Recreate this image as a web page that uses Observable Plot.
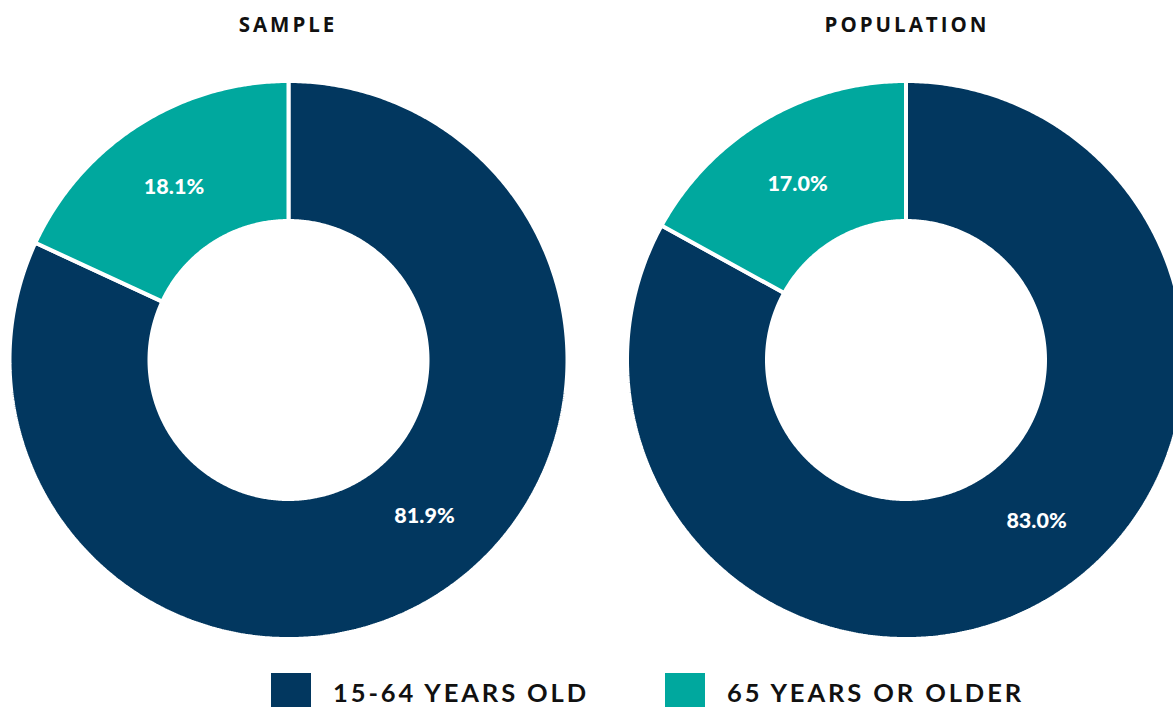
<!DOCTYPE html>
<html>
<head>
<meta charset="utf-8">
<script src="https://cdn.jsdelivr.net/npm/d3@7"></script>
<script src="https://cdn.jsdelivr.net/npm/@observablehq/plot@0.6"></script>
<style>
  html, body { margin: 0; padding: 0; background: #fff; }
  #wrap { position: relative; width: 1173px; height: 707px; overflow: hidden; background: #fff; }
  .title { position: absolute; top: 10px; font-family: "Open Sans", sans-serif; font-weight: 700; font-size: 20.5px; letter-spacing: 3px; color: #111; transform: translateX(-50%); white-space: nowrap; }
  #chart { position: absolute; top: 50px; left: 0; }
  .sw { position: absolute; top: 673px; width: 40px; height: 40px; }
  .lt { position: absolute; top: 675px; font-family: Lato, sans-serif; font-weight: 700; font-size: 25.5px; letter-spacing: 2.9px; color: #111; white-space: nowrap; line-height: 34px; }
</style>
</head>
<body>
<div id="wrap">
  <div id="titles"></div>
  <div id="chart"></div>
  <div id="legend"></div>
</div>
<script>
// ---- data ----
const panels = ["SAMPLE", "POPULATION"];
const categories = ["15-64 YEARS OLD", "65 YEARS OR OLDER"];
const sampleValues = [81.9, 18.1];
const populationValues = [83.0, 17.0];
const colors = ["#02375f", "#00a89e"];
const labelAngleShift = [-8.5, -1]; // degrees, label placement tweak per category

// ---- layout ----
const W = 1173, H = 620;
const centersX = [288, 905.5];
const centerY = 309.5;
const R = 279, r = 139;
const panelValues = [sampleValues, populationValues];

// titles
const titles = document.getElementById("titles");
panels.forEach((p, i) => {
  const d = document.createElement("div");
  d.className = "title";
  d.style.left = (centersX[i] + (i === 0 ? 0 : 1.5)) + "px";
  d.textContent = p;
  titles.appendChild(d);
});

// build slice polygons from the data
const marks = [];
const labels = [];
panelValues.forEach((vals, pi) => {
  const total = d3.sum(vals);
  let acc = 0;
  vals.forEach((v, ci) => {
    const a0 = acc / total * 2 * Math.PI;
    const a1 = (acc + v) / total * 2 * Math.PI;
    acc += v;
    const pts = [];
    const n = Math.max(8, Math.ceil((a1 - a0) / (Math.PI / 360)));
    for (let k = 0; k <= n; k++) {
      const a = a0 + (a1 - a0) * k / n;
      pts.push({x: centersX[pi] + R * Math.sin(a), y: centerY - R * Math.cos(a)});
    }
    for (let k = n; k >= 0; k--) {
      const a = a0 + (a1 - a0) * k / n;
      pts.push({x: centersX[pi] + r * Math.sin(a), y: centerY - r * Math.cos(a)});
    }
    marks.push(Plot.line(pts, {x: "x", y: "y", curve: "linear-closed", fill: colors[ci], stroke: "white", strokeWidth: 4, strokeLinejoin: "miter"}));
    const am = (a0 + a1) / 2 + labelAngleShift[ci] * Math.PI / 180;
    const rm = (R + r) / 2 - 2;
    labels.push({x: centersX[pi] + rm * Math.sin(am), y: centerY - rm * Math.cos(am), text: v.toFixed(1) + "%"});
  });
});

const chart = Plot.plot({
  width: W,
  height: H,
  margin: 0,
  x: {domain: [0, W], range: [0, W], axis: null},
  y: {domain: [0, H], range: [0, H], axis: null},
  marks: [
    ...marks,
    Plot.text(labels, {x: "x", y: "y", text: "text", fill: "white", fontSize: 21.5, fontWeight: 900, fontFamily: "Lato, sans-serif"})
  ]
});
document.getElementById("chart").appendChild(chart);

// legend
const legend = document.getElementById("legend");
const swX = [271, 665];
categories.forEach((c, i) => {
  const s = document.createElement("div");
  s.className = "sw";
  s.style.left = swX[i] + "px";
  s.style.background = colors[i];
  legend.appendChild(s);
  const t = document.createElement("div");
  t.className = "lt";
  t.style.left = (swX[i] + 62) + "px";
  t.textContent = c;
  legend.appendChild(t);
});
</script>
</body>
</html>
